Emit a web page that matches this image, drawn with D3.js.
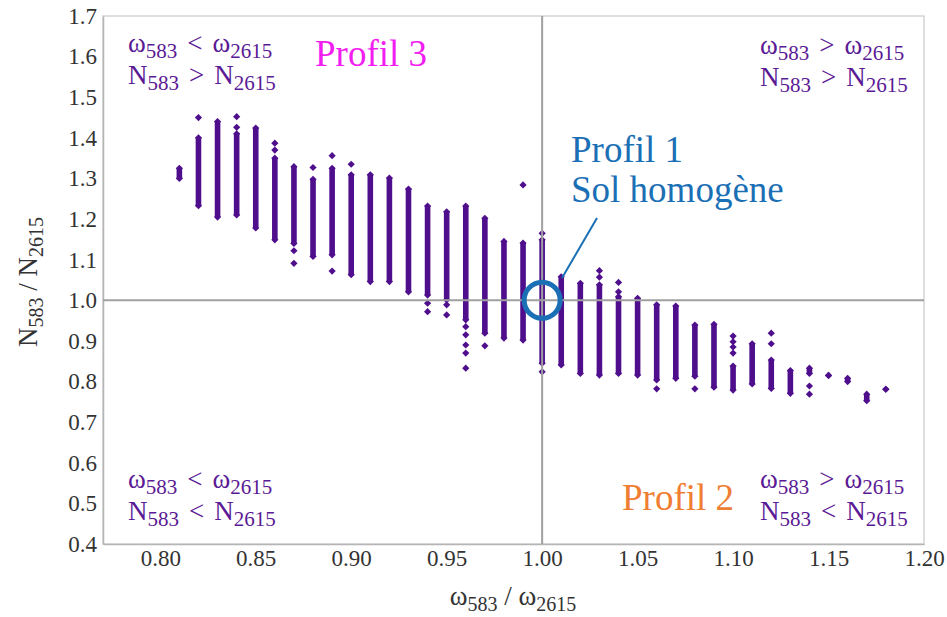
<!DOCTYPE html>
<html>
<head>
<meta charset="utf-8">
<script src="https://cdn.jsdelivr.net/npm/d3@7.9.0/dist/d3.min.js"></script>
<style>
  body { margin: 0; background: #fff; }
  svg text { font-family: "Liberation Serif", "DejaVu Serif", serif; }
</style>
</head>
<body>
<svg id="chart" width="947" height="617"></svg>
<script>
// one column of points per x value: dense strip from yLow to yHigh
const xCols = [0.81, 0.82, 0.83, 0.84, 0.85, 0.86, 0.87, 0.88, 0.89, 0.90,
               0.91, 0.92, 0.93, 0.94, 0.95, 0.96, 0.97, 0.98, 0.99, 1.00,
               1.01, 1.02, 1.03, 1.04, 1.05, 1.06, 1.07, 1.08, 1.09, 1.10,
               1.11, 1.12, 1.13, 1.14, 1.15, 1.16, 1.17, 1.18];
const yLow  = [1.300, 1.233, 1.205, 1.210, 1.178, 1.149, 1.140, 1.108, 1.112, 1.063,
               1.046, 1.046, 1.021, 1.013, 1.001, 0.952, 0.919, 0.907, 0.902, 0.845,
               0.841, 0.820, 0.816, 0.820, 0.816, 0.804, 0.808, 0.813, 0.786, 0.779,
               0.794, 0.783, 0.771, 0.820, 0.815, 0.800, 0.753, 0.781];
const yHigh = [1.325, 1.400, 1.440, 1.410, 1.424, 1.350, 1.329, 1.298, 1.325, 1.309,
               1.309, 1.301, 1.274, 1.232, 1.218, 1.232, 1.202, 1.145, 1.141, 1.149,
               1.058, 1.042, 1.038, 1.009, 1.005, 0.989, 0.986, 0.939, 0.941, 0.838,
               0.893, 0.853, 0.827, 0.833, 0.815, 0.808, 0.769, 0.781];

// isolated points away from the strips
const isoX = [0.82, 0.84, 0.84, 0.86, 0.86, 0.87, 0.87, 0.88, 0.89, 0.89,
              0.90, 0.94, 0.94, 0.95, 0.95, 0.96, 0.96, 0.96, 0.96, 0.96,
              0.97, 0.99, 1.00, 1.00, 1.03, 1.03, 1.04, 1.04, 1.06, 1.08,
              1.10, 1.10, 1.10, 1.10, 1.12, 1.12, 1.14, 1.14];
const isoY = [1.450, 1.426, 1.452, 1.370, 1.387, 1.122, 1.091, 1.327, 1.356, 1.072,
              1.335, 0.993, 0.972, 0.989, 0.964, 0.935, 0.915, 0.890, 0.870, 0.833,
              0.888, 1.284, 1.165, 0.824, 1.073, 1.057, 1.044, 1.021, 0.782, 0.782,
              0.912, 0.898, 0.885, 0.870, 0.919, 0.893, 0.789, 0.769];

const xTicks = [0.80, 0.85, 0.90, 0.95, 1.00, 1.05, 1.10, 1.15, 1.20];
const yTicks = [0.4, 0.5, 0.6, 0.7, 0.8, 0.9, 1.0, 1.1, 1.2, 1.3, 1.4, 1.5, 1.6, 1.7];

// quadrant labels: [symbol, sub, relation, symbol, sub]
const quadTop = [["ω", "583", "<", "ω", "2615"], ["N", "583", ">", "N", "2615"]];
const quadTopRight = [["ω", "583", ">", "ω", "2615"], ["N", "583", ">", "N", "2615"]];
const quadBottom = [["ω", "583", "<", "ω", "2615"], ["N", "583", "<", "N", "2615"]];
const quadBottomRight = [["ω", "583", ">", "ω", "2615"], ["N", "583", "<", "N", "2615"]];

const purple = "#4f0f8c";
const textPurple = "#5b1a95";

const svg = d3.select("#chart");

const x = d3.scaleLinear().domain([0.77, 1.20]).range([103, 924]);
const y = d3.scaleLinear().domain([0.4, 1.7]).range([544, 16]);

// frame
svg.append("rect")
    .attr("x", x.range()[0]).attr("y", y.range()[1])
    .attr("width", x.range()[1] - x.range()[0])
    .attr("height", y.range()[0] - y.range()[1])
    .attr("fill", "none")
    .attr("stroke", "#d4d4d4")
    .attr("stroke-width", 1.5);

// Axes
const xAxis = svg.append("g")
    .attr("transform", `translate(0,${y.range()[0]})`)
    .call(d3.axisBottom(x).tickValues(xTicks).tickFormat(d3.format(".2f")).tickSize(0).tickPadding(6));
xAxis.select(".domain").attr("stroke", "#b5b5b5").attr("stroke-width", 1.5);

const yAxis = svg.append("g")
    .attr("transform", `translate(${x.range()[0]},0)`)
    .call(d3.axisLeft(y).tickValues(yTicks).tickFormat(d3.format(".1f")).tickSize(0).tickPadding(6));
yAxis.select(".domain").attr("stroke", "#b5b5b5").attr("stroke-width", 1.5);

svg.selectAll(".tick text")
    .style("font-family", "Liberation Serif")
    .style("font-size", "23px")
    .attr("fill", "#333");

// Strips
const cols = xCols.map((v, i) => ({ x: v, lo: yLow[i], hi: yHigh[i] }));
svg.append("g").selectAll("rect")
    .data(cols)
    .enter()
    .append("rect")
    .attr("x", d => x(d.x) - 2.8)
    .attr("y", d => y(d.hi))
    .attr("width", 5.6)
    .attr("height", d => y(d.lo) - y(d.hi))
    .attr("fill", purple);

const diamond = d3.symbol().type(d3.symbolSquare).size(26);
const ends = [];
cols.forEach(d => { ends.push({ x: d.x, y: d.lo }); ends.push({ x: d.x, y: d.hi }); });
isoX.forEach((v, i) => ends.push({ x: v, y: isoY[i] }));

svg.append("g").selectAll("path")
    .data(ends)
    .enter()
    .append("path")
    .attr("d", diamond)
    .attr("transform", d => `translate(${x(d.x)},${y(d.y)}) rotate(45)`)
    .attr("fill", purple);

// reference lines at 1.0
svg.append("line")
    .attr("x1", x(1.0)).attr("x2", x(1.0))
    .attr("y1", y.range()[1]).attr("y2", y.range()[0])
    .attr("stroke", "#a0a0a0").attr("stroke-width", 2);
svg.append("line")
    .attr("x1", x.range()[0]).attr("x2", x.range()[1])
    .attr("y1", y(1.0)).attr("y2", y(1.0))
    .attr("stroke", "#a0a0a0").attr("stroke-width", 2);

// Profil 1 marker
const blue = "#1b6fb5";
svg.append("circle")
    .attr("cx", x(1.0)).attr("cy", y(1.0))
    .attr("r", 18)
    .attr("fill", "none")
    .attr("stroke", blue)
    .attr("stroke-width", 5);
svg.append("line")
    .attr("x1", 562).attr("y1", 278)
    .attr("x2", 597).attr("y2", 218)
    .attr("stroke", blue).attr("stroke-width", 2);

// label with subscripts
function mathLine(px, py, parts, size, subSize, color) {
    const t = svg.append("text")
        .attr("x", px).attr("y", py)
        .attr("fill", color)
        .style("font-size", size + "px");
    t.append("tspan").text(parts[0]);
    t.append("tspan").attr("dy", 6).style("font-size", subSize + "px").text(parts[1]);
    t.append("tspan").attr("dy", -6).attr("dx", 10).text(parts[2]);
    t.append("tspan").attr("dx", 10).text(parts[3]);
    t.append("tspan").attr("dy", 6).style("font-size", subSize + "px").text(parts[4]);
}

function quad(lines, px, py) {
    mathLine(px, py, lines[0], 27, 21, textPurple);
    mathLine(px, py + 32, lines[1], 27, 21, textPurple);
}
quad(quadTop, 128, 52);
quad(quadTopRight, 760, 54);
quad(quadBottom, 128, 488);
quad(quadBottomRight, 760, 488);

// Profil labels
svg.append("text").attr("x", 315).attr("y", 66)
    .attr("fill", "#f21df0").style("font-size", "37px").text("Profil 3");
svg.append("text").attr("x", 622).attr("y", 510)
    .attr("fill", "#ef7d32").style("font-size", "37px").text("Profil 2");
svg.append("text").attr("x", 571).attr("y", 162)
    .attr("fill", blue).style("font-size", "37px").text("Profil 1");
svg.append("text").attr("x", 571).attr("y", 202)
    .attr("fill", blue).style("font-size", "37px").text("Sol homogène");

// axis titles
const xt = svg.append("text")
    .attr("x", 513).attr("y", 605)
    .attr("text-anchor", "middle")
    .attr("fill", "#333")
    .style("font-size", "27px");
xt.append("tspan").text("ω");
xt.append("tspan").attr("dy", 6).style("font-size", "20px").text("583");
xt.append("tspan").attr("dy", -6).text(" / ω");
xt.append("tspan").attr("dy", 6).style("font-size", "20px").text("2615");

const yt = svg.append("text")
    .attr("transform", "translate(37,282) rotate(-90)")
    .attr("text-anchor", "middle")
    .attr("fill", "#333")
    .style("font-size", "27px");
yt.append("tspan").text("N");
yt.append("tspan").attr("dy", 6).style("font-size", "20px").text("583");
yt.append("tspan").attr("dy", -6).text(" / N");
yt.append("tspan").attr("dy", 6).style("font-size", "20px").text("2615");
</script>
</body>
</html>
